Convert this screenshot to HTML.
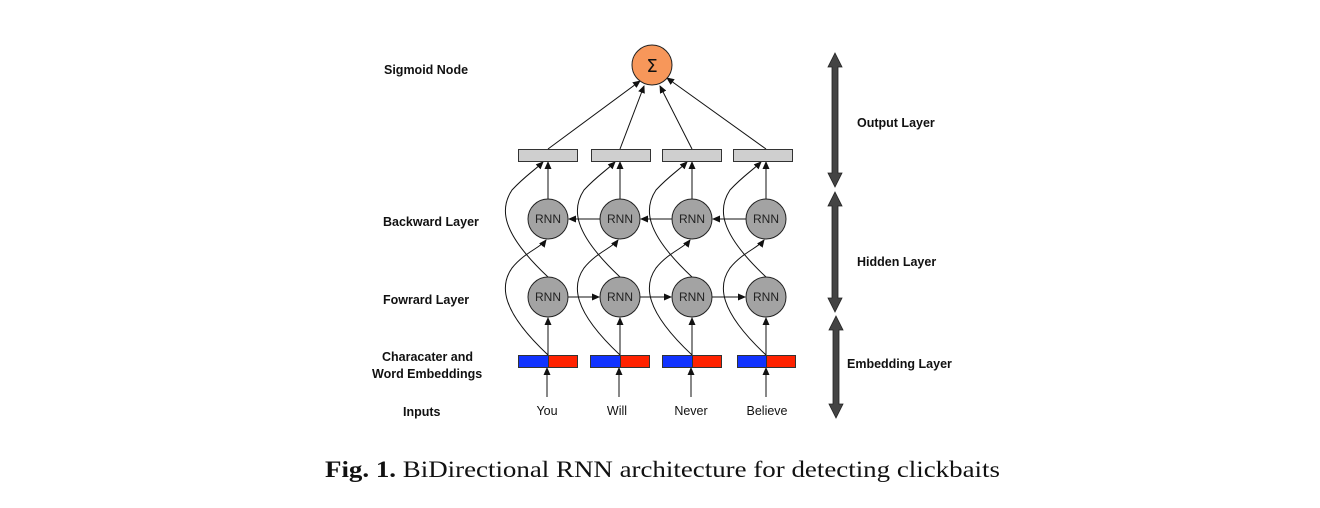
<!DOCTYPE html>
<html><head><meta charset="utf-8"><style>
html,body{margin:0;padding:0;background:#fff;}
svg{display:block;}
.l{font-family:"Liberation Sans",Arial,sans-serif;font-weight:bold;font-size:12.5px;fill:#111;}
.r{font-family:"Liberation Sans",Arial,sans-serif;font-size:12px;fill:#222;}
.w{font-family:"Liberation Sans",Arial,sans-serif;font-size:12.5px;fill:#111;}
</style></head><body>
<svg width="1320" height="508" viewBox="0 0 1320 508" xmlns="http://www.w3.org/2000/svg">
<defs>
<marker id="a" markerWidth="8" markerHeight="8" refX="7" refY="4" orient="auto" markerUnits="userSpaceOnUse">
<path d="M0,0.5 L8,4 L0,7.5 z" fill="#111"/></marker>
</defs>
<text class="l" x="384" y="74">Sigmoid Node</text>
<text class="l" x="383" y="226">Backward Layer</text>
<text class="l" x="383" y="304">Fowrard Layer</text>
<text class="l" x="382" y="361">Characater and</text>
<text class="l" x="372" y="378">Word Embeddings</text>
<text class="l" x="403" y="416">Inputs</text>

<g stroke="#111" stroke-width="1" fill="none" marker-end="url(#a)">
<line x1="548" y1="149" x2="640" y2="81"/>
<line x1="620" y1="149" x2="644" y2="86"/>
<line x1="692" y1="149" x2="660" y2="86"/>
<line x1="766" y1="149" x2="667" y2="78"/>
</g>
<circle cx="652" cy="65" r="20" fill="#f7975a" stroke="#222" stroke-width="1"/>
<text x="652" y="72" text-anchor="middle" font-family="DejaVu Sans,sans-serif" font-size="18" fill="#111">Σ</text>

<g stroke="#111" stroke-width="1" fill="none">
<g marker-end="url(#a)">
<line x1="548" y1="199" x2="548" y2="162"/><line x1="620" y1="199" x2="620" y2="162"/><line x1="692" y1="199" x2="692" y2="162"/><line x1="766" y1="199" x2="766" y2="162"/>
<line x1="548" y1="355" x2="548" y2="318"/><line x1="620" y1="355" x2="620" y2="318"/><line x1="692" y1="355" x2="692" y2="318"/><line x1="766" y1="355" x2="766" y2="318"/>
<line x1="547" y1="397" x2="547" y2="368"/><line x1="619" y1="397" x2="619" y2="368"/><line x1="691" y1="397" x2="691" y2="368"/><line x1="766" y1="397" x2="766" y2="368"/>
<line x1="600" y1="219" x2="569" y2="219"/><line x1="672" y1="219" x2="641" y2="219"/><line x1="746" y1="219" x2="713" y2="219"/>
<line x1="568" y1="297" x2="599" y2="297"/><line x1="640" y1="297" x2="671" y2="297"/><line x1="712" y1="297" x2="745" y2="297"/>
<path d="M548,355 C500,310 500,285 512,268 C525,252 540,248 546,240"/>
<path d="M620,355 C572,310 572,285 584,268 C597,252 612,248 618,240"/>
<path d="M692,355 C644,310 644,285 656,268 C669,252 684,248 690,240"/>
<path d="M766,355 C718,310 718,285 730,268 C743,252 758,248 764,240"/>
<path d="M548,277 C500,232 500,208 512,190 C525,176 535,170 543,162"/>
<path d="M620,277 C572,232 572,208 584,190 C597,176 607,170 615,162"/>
<path d="M692,277 C644,232 644,208 656,190 C669,176 679,170 687,162"/>
<path d="M766,277 C718,232 718,208 730,190 C743,176 753,170 761,162"/>
</g>
</g>
<g fill="#a3a3a3" stroke="#222" stroke-width="1">
<circle cx="548" cy="219" r="20"/><circle cx="620" cy="219" r="20"/><circle cx="692" cy="219" r="20"/><circle cx="766" cy="219" r="20"/>
<circle cx="548" cy="297" r="20"/><circle cx="620" cy="297" r="20"/><circle cx="692" cy="297" r="20"/><circle cx="766" cy="297" r="20"/>
</g>
<g fill="#cfcfcf" stroke="#333" stroke-width="1">
<rect x="518.5" y="149.5" width="59" height="12"/><rect x="591.5" y="149.5" width="59" height="12"/><rect x="662.5" y="149.5" width="59" height="12"/><rect x="733.5" y="149.5" width="59" height="12"/>
</g>
<g stroke="#333" stroke-width="1">
<rect x="518.5" y="355.5" width="30" height="12" fill="#1133ff"/><rect x="548.5" y="355.5" width="29" height="12" fill="#ff2200"/>
<rect x="590.5" y="355.5" width="30" height="12" fill="#1133ff"/><rect x="620.5" y="355.5" width="29" height="12" fill="#ff2200"/>
<rect x="662.5" y="355.5" width="30" height="12" fill="#1133ff"/><rect x="692.5" y="355.5" width="29" height="12" fill="#ff2200"/>
<rect x="737.5" y="355.5" width="29" height="12" fill="#1133ff"/><rect x="766.5" y="355.5" width="29" height="12" fill="#ff2200"/>
</g>
<g text-anchor="middle">
<text class="r" x="548" y="223">RNN</text><text class="r" x="620" y="223">RNN</text><text class="r" x="692" y="223">RNN</text><text class="r" x="766" y="223">RNN</text>
<text class="r" x="548" y="301">RNN</text><text class="r" x="620" y="301">RNN</text><text class="r" x="692" y="301">RNN</text><text class="r" x="766" y="301">RNN</text>
<text class="w" x="547" y="415">You</text><text class="w" x="617" y="415">Will</text><text class="w" x="691" y="415">Never</text><text class="w" x="767" y="415">Believe</text>
</g>

<g fill="#444" stroke="#222" stroke-width="0.8">
<path d="M835,53 L842,67 L838,67 L838,173 L842,173 L835,187 L828,173 L832,173 L832,67 L828,67 z"/>
<path d="M835,192 L842,206 L838,206 L838,298 L842,298 L835,312 L828,298 L832,298 L832,206 L828,206 z"/>
<path d="M836,316 L843,330 L839,330 L839,404 L843,404 L836,418 L829,404 L833,404 L833,330 L829,330 z"/>
</g>
<text class="l" x="857" y="127">Output Layer</text>
<text class="l" x="857" y="266">Hidden Layer</text>
<text class="l" x="847" y="368">Embedding Layer</text>

<text x="325" y="477" font-family="Liberation Serif,serif" font-size="23" fill="#111" textLength="675" lengthAdjust="spacingAndGlyphs"><tspan font-weight="bold">Fig. 1.</tspan> BiDirectional RNN architecture for detecting clickbaits</text>
</svg>
</body></html>
